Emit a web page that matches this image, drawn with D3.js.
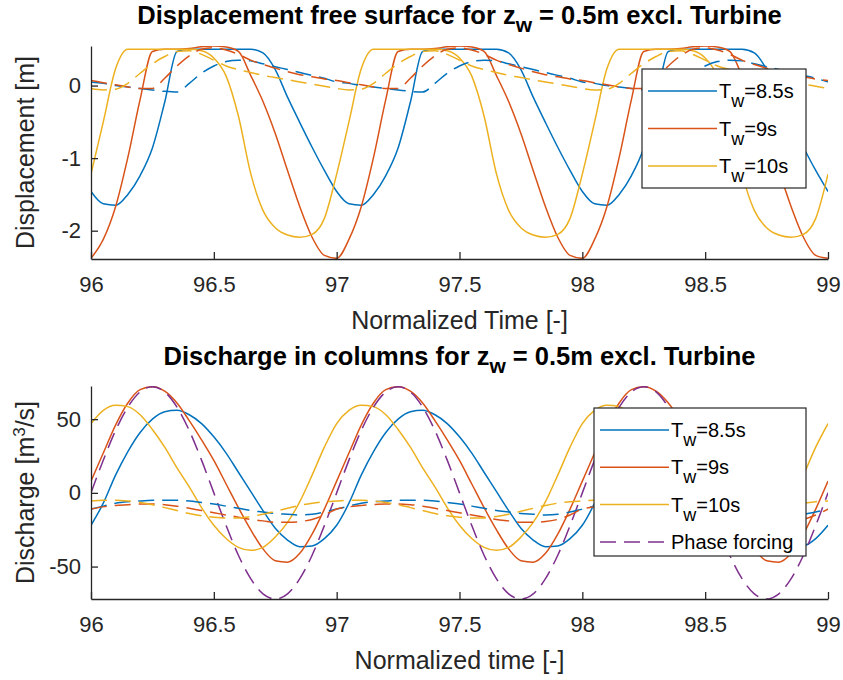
<!DOCTYPE html>
<html lang="en">
<head>
<meta charset="utf-8">
<title>Displacement and discharge</title>
<script src="https://cdnjs.cloudflare.com/ajax/libs/d3/7.8.5/d3.min.js"></script>
<style>
  body { margin: 0; background: #fff; }
  svg { font-family: "Liberation Sans", Arial, Helvetica, sans-serif; }
  .axis path, .axis line { stroke: #262626; stroke-width: 1.3px; }
  .axis text { fill: #262626; font-size: 22px; }
  .lbl { fill: #262626; font-size: 25px; }
  .ttl { fill: #000; font-size: 25.5px; font-weight: bold; }
  .leg text { fill: #000; font-size: 20px; }
</style>
</head>
<body>
<script>
// normalized time samples
var time = [96,96.05,96.1,96.15,96.2,96.25,96.3,96.35,96.4,96.45,96.5,96.55,96.6,96.65,96.7,96.75,96.8,96.85,96.9,96.95,
            97,97.05,97.1,97.15,97.2,97.25,97.3,97.35,97.4,97.45,97.5,97.55,97.6,97.65,97.7,97.75,97.8,97.85,97.9,97.95,
            98,98.05,98.1,98.15,98.2,98.25,98.3,98.35,98.4,98.45,98.5,98.55,98.6,98.65,98.7,98.75,98.8,98.85,98.9,98.95,99];

var xTicks = [96, 96.5, 97, 97.5, 98, 98.5, 99];
var dispTicks = [-2, -1, 0];
var dischTicks = [-50, 0, 50];
var legendNames = ["8.5s", "9s", "10s"];

// displacement free surface [m]
var dispBlue = [-1.46,-1.63,-1.65,-1.50,-1.24,-0.86,-0.23,0.47,0.50,0.50,0.50,0.50,0.50,0.50,0.45,0.22,-0.16,-0.51,-0.85,-1.17,
                -1.46,-1.63,-1.65,-1.50,-1.24,-0.86,-0.23,0.47,0.50,0.50,0.50,0.50,0.50,0.50,0.45,0.22,-0.16,-0.51,-0.85,-1.17,
                -1.46,-1.63,-1.65,-1.50,-1.24,-0.86,-0.23,0.47,0.50,0.50,0.50,0.50,0.50,0.50,0.45,0.22,-0.16,-0.51,-0.85,-1.17,-1.46];
var dispRed = [-2.38,-2.12,-1.67,-0.99,-0.19,0.47,0.50,0.50,0.51,0.535,0.545,0.53,0.47,0.14,-0.22,-0.66,-1.17,-1.67,-2.09,-2.34,
               -2.38,-2.12,-1.67,-0.99,-0.19,0.47,0.50,0.50,0.51,0.535,0.545,0.53,0.47,0.14,-0.22,-0.66,-1.17,-1.67,-2.09,-2.34,
               -2.38,-2.12,-1.67,-0.99,-0.19,0.47,0.50,0.50,0.51,0.535,0.545,0.53,0.47,0.14,-0.22,-0.66,-1.17,-1.67,-2.09,-2.34,-2.38];
var dispYellow = [-1.22,-0.50,0.23,0.50,0.50,0.50,0.50,0.50,0.50,0.48,0.38,0.13,-0.42,-1.21,-1.72,-1.96,-2.06,-2.09,-2.05,-1.83,
                  -1.22,-0.50,0.23,0.50,0.50,0.50,0.50,0.50,0.50,0.48,0.38,0.13,-0.42,-1.21,-1.72,-1.96,-2.06,-2.09,-2.05,-1.83,
                  -1.22,-0.50,0.23,0.50,0.50,0.50,0.50,0.50,0.50,0.48,0.38,0.13,-0.42,-1.21,-1.72,-1.96,-2.06,-2.09,-2.05,-1.83,-1.22];
var dispBlueDash = [0.05,0.03,0.00,-0.02,-0.04,-0.06,-0.08,-0.09,0.03,0.17,0.27,0.33,0.35,0.34,0.30,0.26,0.22,0.18,0.14,0.10,
                    0.05,0.03,0.00,-0.02,-0.04,-0.06,-0.08,-0.09,0.03,0.17,0.27,0.33,0.35,0.34,0.30,0.26,0.22,0.18,0.14,0.10,
                    0.05,0.03,0.00,-0.02,-0.04,-0.06,-0.08,-0.09,0.03,0.17,0.27,0.33,0.35,0.34,0.30,0.26,0.22,0.18,0.14,0.10,0.05];
var dispRedDash = [0.07,0.04,0.01,-0.02,-0.04,-0.04,0.10,0.27,0.41,0.50,0.52,0.49,0.43,0.35,0.29,0.24,0.19,0.15,0.12,0.09,
                   0.07,0.04,0.01,-0.02,-0.04,-0.04,0.10,0.27,0.41,0.50,0.52,0.49,0.43,0.35,0.29,0.24,0.19,0.15,0.12,0.09,
                   0.07,0.04,0.01,-0.02,-0.04,-0.04,0.10,0.27,0.41,0.50,0.52,0.49,0.43,0.35,0.29,0.24,0.19,0.15,0.12,0.09,0.07];
var dispYellowDash = [-0.04,-0.06,-0.05,0.03,0.17,0.30,0.40,0.47,0.48,0.43,0.35,0.27,0.22,0.18,0.14,0.11,0.08,0.05,0.02,-0.01,
                      -0.04,-0.06,-0.05,0.03,0.17,0.30,0.40,0.47,0.48,0.43,0.35,0.27,0.22,0.18,0.14,0.11,0.08,0.05,0.02,-0.01,
                      -0.04,-0.06,-0.05,0.03,0.17,0.30,0.40,0.47,0.48,0.43,0.35,0.27,0.22,0.18,0.14,0.11,0.08,0.05,0.02,-0.01,-0.04];

// discharge in columns [m3/s]
var qBlue = [-22,-7,12,28,41,50,55,56,53,47,38,27,14,1,-12,-24,-32,-36.5,-36,-31,
             -22,-7,12,28,41,50,55,56,53,47,38,27,14,1,-12,-24,-32,-36.5,-36,-31,
             -22,-7,12,28,41,50,55,56,53,47,38,27,14,1,-12,-24,-32,-36.5,-36,-31,-22];
var qRed = [8,27,46,61,70,72,69,61,49,36,22,6,-10,-25,-38,-46,-47,-41,-28,-11,
            8,27,46,61,70,72,69,61,49,36,22,6,-10,-25,-38,-46,-47,-41,-28,-11,
            8,27,46,61,70,72,69,61,49,36,22,6,-10,-25,-38,-46,-47,-41,-28,-11,8];
var qYellow = [47,56,59.5,58.5,53,43,31,17,4,-10,-22,-31,-37,-39,-37,-30,-20,-6,12,31,
               47,56,59.5,58.5,53,43,31,17,4,-10,-22,-31,-37,-39,-37,-30,-20,-6,12,31,
               47,56,59.5,58.5,53,43,31,17,4,-10,-22,-31,-37,-39,-37,-30,-20,-6,12,31,47];
var qForcing = [0,22.2,42.3,58.2,68.5,72,68.5,58.2,42.3,22.2,0,-22.2,-42.3,-58.2,-68.5,-72,-68.5,-58.2,-42.3,-22.2,
                0,22.2,42.3,58.2,68.5,72,68.5,58.2,42.3,22.2,0,-22.2,-42.3,-58.2,-68.5,-72,-68.5,-58.2,-42.3,-22.2,
                0,22.2,42.3,58.2,68.5,72,68.5,58.2,42.3,22.2,0,-22.2,-42.3,-58.2,-68.5,-72,-68.5,-58.2,-42.3,-22.2,0];
var qBlueDash = [-11,-9,-7,-6,-5.5,-5,-5,-5,-5.5,-6.5,-7.5,-9,-10.5,-12,-13,-14,-14.5,-15,-14.5,-13,
                 -11,-9,-7,-6,-5.5,-5,-5,-5,-5.5,-6.5,-7.5,-9,-10.5,-12,-13,-14,-14.5,-15,-14.5,-13,
                 -11,-9,-7,-6,-5.5,-5,-5,-5,-5.5,-6.5,-7.5,-9,-10.5,-12,-13,-14,-14.5,-15,-14.5,-13,-11];
var qRedDash = [-11,-9.5,-8.5,-8,-7.5,-7.5,-8,-9,-10.5,-12,-13.5,-15,-16.5,-18,-19,-20,-20,-19.5,-18,-15,
                -11,-9.5,-8.5,-8,-7.5,-7.5,-8,-9,-10.5,-12,-13.5,-15,-16.5,-18,-19,-20,-20,-19.5,-18,-15,
                -11,-9.5,-8.5,-8,-7.5,-7.5,-8,-9,-10.5,-12,-13.5,-15,-16.5,-18,-19,-20,-20,-19.5,-18,-15,-11];
var qYellowDash = [-5.5,-5,-5,-5.5,-6.5,-8,-10,-12,-14,-15.5,-16.5,-17,-17,-16,-14.5,-12.5,-10.5,-8.5,-7,-6,
                   -5.5,-5,-5,-5.5,-6.5,-8,-10,-12,-14,-15.5,-16.5,-17,-17,-16,-14.5,-12.5,-10.5,-8.5,-7,-6,
                   -5.5,-5,-5,-5.5,-6.5,-8,-10,-12,-14,-15.5,-16.5,-17,-17,-16,-14.5,-12.5,-10.5,-8.5,-7,-6,-5.5];

var blue = "#0072BD", red = "#D95319", yellow = "#EDB120", purple = "#7E2F8E";
var dash = "16,8";

var width = 843, height = 680;
var svg = d3.select("body").append("svg")
    .attr("width", width)
    .attr("height", height);

var x = d3.scaleLinear().domain([96, 99]).range([91, 828]);

function panel(opt) {
    var y = d3.scaleLinear().domain(opt.yDomain).range([opt.bottom, opt.top]);
    var g = svg.append("g");

    g.append("clipPath").attr("id", opt.id)
      .append("rect")
        .attr("x", x.range()[0]).attr("y", opt.top)
        .attr("width", x.range()[1] - x.range()[0])
        .attr("height", opt.bottom - opt.top);

    var line = d3.line()
        .x(function(d, i) { return x(time[i]); })
        .y(function(d) { return y(d); })
        .curve(d3.curveMonotoneX);

    var lines = g.append("g").attr("clip-path", "url(#" + opt.id + ")");
    opt.series.forEach(function(s) {
        lines.append("path")
            .datum(s.values)
            .attr("fill", "none")
            .attr("stroke", s.color)
            .attr("stroke-width", 1.5)
            .attr("stroke-dasharray", s.dashed ? dash : null)
            .attr("d", line);
    });

    // axes (ticks pointing inwards, no box)
    g.append("g")
        .attr("class", "axis")
        .attr("transform", "translate(0," + opt.bottom + ")")
        .call(d3.axisBottom(x).tickValues(xTicks).tickFormat(function(d) { return String(d); })
            .tickSizeInner(-7).tickSizeOuter(0).tickPadding(17));
    g.append("g")
        .attr("class", "axis")
        .attr("transform", "translate(" + x.range()[0] + ",0)")
        .call(d3.axisLeft(y).tickValues(opt.yTicks).tickFormat(function(d) { return String(d); })
            .tickSizeInner(-7).tickSizeOuter(0).tickPadding(10));

    // title
    var t = g.append("text").attr("class", "ttl")
        .attr("x", 459.5).attr("y", opt.titleY)
        .attr("text-anchor", "middle");
    t.append("tspan").text(opt.title[0]);
    t.append("tspan").attr("dy", 8).attr("font-size", "21px").text("w");
    t.append("tspan").attr("dy", -8).text(opt.title[1]);

    g.append("text").attr("class", "lbl")
        .attr("x", 459.5).attr("y", opt.xLabelY)
        .attr("text-anchor", "middle")
        .text(opt.xLabel);

    var yl = g.append("text").attr("class", "lbl")
        .attr("transform", "translate(34," + (opt.top + opt.bottom) / 2 + ") rotate(-90)")
        .attr("text-anchor", "middle");
    yl.append("tspan").text(opt.yLabel[0]);
    if (opt.yLabel.length > 1) {
        yl.append("tspan").attr("dy", -9).attr("font-size", "17px").text(opt.yLabel[1]);
        yl.append("tspan").attr("dy", 9).text(opt.yLabel[2]);
    }

    // legend
    var L = opt.legend;
    var leg = g.append("g").attr("class", "leg");
    leg.append("rect")
        .attr("x", L.x).attr("y", L.y)
        .attr("width", L.w).attr("height", L.h)
        .attr("fill", "#fff").attr("stroke", "#262626").attr("stroke-width", 1.2);
    L.items.forEach(function(it, i) {
        var cy = L.y + L.first + i * L.step;
        leg.append("line")
            .attr("x1", L.x + 6).attr("x2", L.x + 75)
            .attr("y1", cy).attr("y2", cy)
            .attr("stroke", it.color).attr("stroke-width", 1.5)
            .attr("stroke-dasharray", it.dashed ? dash : null);
        var tx = leg.append("text").attr("x", L.x + 77).attr("y", cy + 7);
        if (it.name) {
            tx.text(it.name);
        } else {
            tx.append("tspan").text("T");
            tx.append("tspan").attr("dy", 9).attr("font-size", "18px").text("w");
            tx.append("tspan").attr("dy", -9).text("=" + it.period);
        }
    });
}

panel({
    id: "clipTop", top: 46, bottom: 259, yDomain: [-2.39, 0.545], yTicks: dispTicks,
    title: ["Displacement free surface for z", " = 0.5m excl. Turbine"], titleY: 24,
    xLabel: "Normalized Time [-]", xLabelY: 329,
    yLabel: ["Displacement [m]"],
    series: [
        { values: dispBlue, color: blue }, { values: dispRed, color: red }, { values: dispYellow, color: yellow },
        { values: dispBlueDash, color: blue, dashed: true }, { values: dispRedDash, color: red, dashed: true },
        { values: dispYellowDash, color: yellow, dashed: true }
    ],
    legend: { x: 642, y: 69, w: 164, h: 119, first: 22, step: 37.5,
        items: [{ color: blue, period: legendNames[0] }, { color: red, period: legendNames[1] },
                { color: yellow, period: legendNames[2] }] }
});

panel({
    id: "clipBot", top: 386, bottom: 599, yDomain: [-72, 72.5], yTicks: dischTicks,
    title: ["Discharge in columns for z", " = 0.5m excl. Turbine"], titleY: 365,
    xLabel: "Normalized time [-]", xLabelY: 669,
    yLabel: ["Discharge [m", "3", "/s]"],
    series: [
        { values: qBlue, color: blue }, { values: qRed, color: red }, { values: qYellow, color: yellow },
        { values: qForcing, color: purple, dashed: true },
        { values: qBlueDash, color: blue, dashed: true }, { values: qRedDash, color: red, dashed: true },
        { values: qYellowDash, color: yellow, dashed: true }
    ],
    legend: { x: 594, y: 408, w: 212, h: 148, first: 22, step: 37.3,
        items: [{ color: blue, period: legendNames[0] }, { color: red, period: legendNames[1] },
                { color: yellow, period: legendNames[2] }, { color: purple, dashed: true, name: "Phase forcing" }] }
});
</script>
</body>
</html>
